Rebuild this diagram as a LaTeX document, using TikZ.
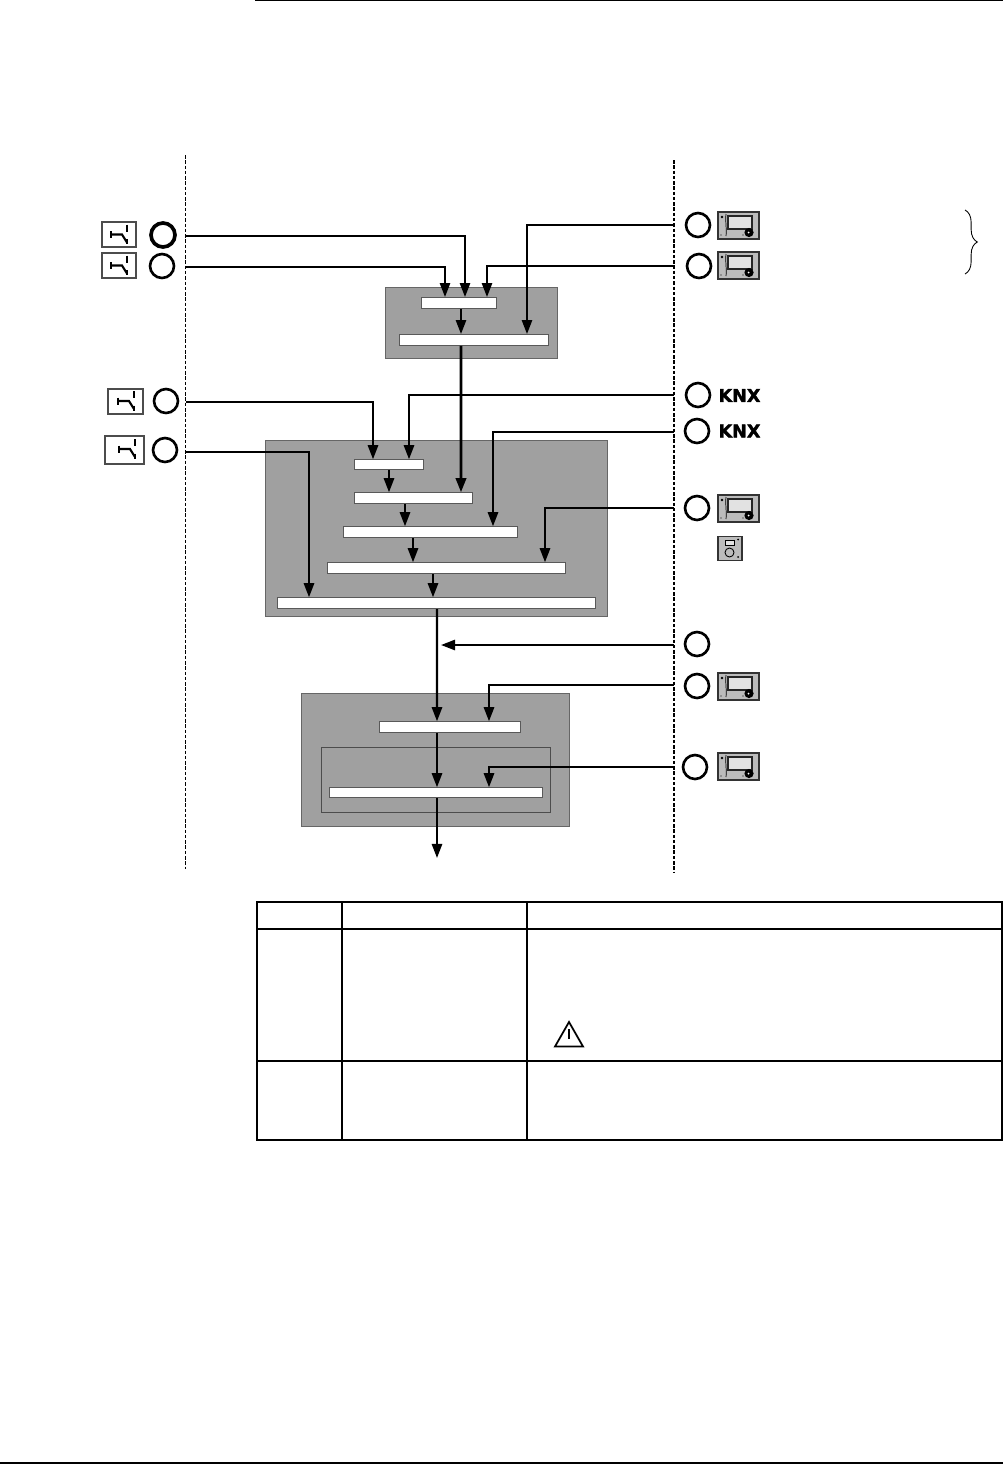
\documentclass[tikz,border=0pt]{standalone}
\usepackage{xcolor}
\usepackage{fontspec}
\newfontfamily\knxfont[BoldFeatures={FakeBold=2}]{DejaVu Sans}
\usetikzlibrary{arrows.meta, positioning, decorations.pathreplacing, shapes.geometric}
\definecolor{panel}{HTML}{A0A0A0}
\definecolor{device}{HTML}{BCBCBC}
\definecolor{screen}{HTML}{E2E2E2}
\tikzset{
  groupbox/.style={draw=black!60, fill=panel, line width=0.5pt, inner sep=0pt, rectangle},
  innerbox/.style={draw=black!70, line width=0.5pt, inner sep=0pt, rectangle},
  barbox/.style={draw=black!65, fill=white, line width=0.5pt, inner sep=0pt, rectangle},
  port/.style={draw, circle, line width=1.5pt, minimum size=0.48cm, inner sep=0pt},
  switchbox/.style={draw=black!70, fill=white, line width=0.7pt, inner sep=0pt, rectangle},
  link/.style={-{Triangle[length=8pt,width=5.8pt]}, line width=1.25pt},
  boundary/.style={dash pattern=on 2pt off 1pt, line width=0.6pt},
  rule/.style={line width=0.7pt},
  knx/.style={font=\knxfont\bfseries\fontsize{10}{10}\selectfont, inner sep=0pt},
}
% bedienteil: x1,y1 links oben, in Pixeln
\newcommand{\panelicon}[2]{%
  \begin{scope}[shift={(#1,#2)}]
    \fill[device, draw=black!80, line width=0.9pt] (0,0) rectangle (41,27);
    \draw[fill=screen, draw=black!85, line width=0.6pt] (10,4) rectangle (34,17);
    \draw[line width=0.4pt] (8,2) .. controls (7,10) and (9,16) .. (8,24);
    \fill (4,5) circle (1.3);
    \fill (31,20.5) circle (4.6);
    \fill[white] (30.5,20.5) circle (1);
    \fill (25,23) circle (0.7);
    \fill (3,23) circle (0.7);
  \end{scope}}
% schaltersymbol
\newcommand{\switchicon}[2]{%
  \begin{scope}[shift={(#1,#2)}]
    \draw[line width=1.2pt] (-8,0) -- (3,0) -- (8,8);
    \draw[line width=1pt] (-8,-3.5) -- (-8,3.5);
    \draw[line width=1pt] (8,4.5) -- (8,9.5);
    \draw[line width=1pt] (8,-10) -- (8,-3);
  \end{scope}}
\begin{document}
\begin{tikzpicture}[x=0.02cm, y=-0.02cm, >=Latex]
  \useasboundingbox (0,0) rectangle (1003,1464);
  \fill[white] (0,0) rectangle (1003,1464);
  % Seitenlinien
  \coordinate (topL) at (255,0.6);
  \coordinate (topR) at (1003,0.6);
  \coordinate (botL) at (0,1463);
  \coordinate (botR) at (1003,1463);
  \draw[rule] (topL) -- (topR);
  \draw[rule, line width=1.1pt] (botL) -- (botR);
  % Grenzen
  \coordinate (limLt) at (185.5,155);
  \coordinate (limLb) at (185.5,869);
  \coordinate (limRt) at (674,160);
  \coordinate (limRb) at (674,873);
  \draw[boundary] (limLt) -- (limLb);
  \draw[boundary] (limRt) -- (limRb);

  % Gruppen
  \node[groupbox, minimum width=3.44cm, minimum height=1.42cm] (groupA) at (471.7,323) {};
  \node[groupbox, minimum width=6.84cm, minimum height=3.52cm] (groupB) at (436.7,528.7) {};
  \node[groupbox, minimum width=5.36cm, minimum height=2.66cm] (groupC) at (435.7,760.2) {};
  \node[innerbox, minimum width=4.58cm, minimum height=1.30cm] (groupD) at (436.2,780.2) {};

  % Balken
  \node[barbox, minimum width=1.50cm, minimum height=0.22cm] (barA) at (459,303) {};
  \node[barbox, minimum width=2.98cm, minimum height=0.22cm] (barB) at (474,340) {};
  \node[barbox, minimum width=1.38cm, minimum height=0.20cm] (barC) at (389,464.7) {};
  \node[barbox, minimum width=2.36cm, minimum height=0.22cm] (barD) at (413.7,498.2) {};
  \node[barbox, minimum width=3.48cm, minimum height=0.22cm] (barE) at (430.7,532.2) {};
  \node[barbox, minimum width=4.76cm, minimum height=0.22cm] (barF) at (446.7,568.2) {};
  \node[barbox, minimum width=6.36cm, minimum height=0.22cm] (barG) at (436.7,603.2) {};
  \node[barbox, minimum width=2.82cm, minimum height=0.22cm] (barH) at (450,727.2) {};
  \node[barbox, minimum width=4.26cm, minimum height=0.20cm] (barI) at (436,792.7) {};

  % Eingaenge links
  \node[port, line width=2.1pt] (portA) at (163,235) {};
  \node[port] (portB) at (162,266) {};
  \node[port] (portC) at (166,401) {};
  \node[port] (portD) at (165,450) {};
  \node[switchbox, minimum width=0.68cm, minimum height=0.50cm] (swA) at (119,234.5) {};
  \node[switchbox, minimum width=0.68cm, minimum height=0.50cm] (swB) at (119,265.5) {};
  \node[switchbox, minimum width=0.70cm, minimum height=0.50cm] (swC) at (125.5,401.5) {};
  \node[switchbox, minimum width=0.78cm, minimum height=0.56cm] (swD) at (124.5,450) {};
  \switchicon{119}{234.5}
  \switchicon{119}{265.5}
  \switchicon{126}{401}
  \switchicon{127}{449}

  % Eingaenge rechts
  \node[port] (portE) at (698,225) {};
  \node[port] (portF) at (699,266) {};
  \node[port] (portG) at (698,395) {};
  \node[port] (portH) at (697,431) {};
  \node[port] (portI) at (697,508) {};
  \node[port] (portJ) at (697,644) {};
  \node[port] (portK) at (697,686) {};
  \node[port] (portL) at (695,767) {};
  \panelicon{718}{212}
  \panelicon{718}{252}
  \panelicon{718}{495}
  \panelicon{718}{673}
  \panelicon{718}{753}
  \node[knx] (knxA) at (739.5,395.5) {KNX};
  \node[knx] (knxB) at (739.5,431) {KNX};
  % Raumgeraet
  \node[draw=black!80, fill=device, line width=0.8pt, minimum width=0.48cm, minimum height=0.48cm, inner sep=0pt] (roomdev) at (730,548.5) {};
  \draw[fill=screen, line width=0.4pt] (725,540.5) rectangle (734,545);
  \draw[line width=0.5pt] (729.5,552.5) circle (4.5);
  \fill (738,539.5) circle (1);
  \fill (738,557) circle (1);

  % Klammer
  \coordinate (braceT) at (965,210);
  \coordinate (braceB) at (965,274);
  \draw[decorate, decoration={brace, amplitude=7pt}, line width=0.5pt] (braceT) -- (braceB);

  % Anschluesse auf den Grenzen
  \coordinate (lineA) at (186,236);
  \coordinate (lineB) at (186,267);
  \coordinate (lineC) at (186,402);
  \coordinate (lineD) at (186,452);
  \coordinate (lineE) at (674,225);
  \coordinate (lineF) at (674,266);
  \coordinate (lineG) at (674,395);
  \coordinate (lineH) at (674,432);
  \coordinate (lineI) at (674,508);
  \coordinate (lineJ) at (674,645);
  \coordinate (lineK) at (674,685);
  \coordinate (lineL) at (674,767);
  \coordinate (tipJ) at (441,645);
  \coordinate (outlet) at (437,858);

  % Verbindungen
  \draw[link] (lineA) -| ([xshift=6*0.02cm]barA.north);
  \draw[link] (lineB) -| ([xshift=-14*0.02cm]barA.north);
  \draw[link] (lineE) -| ([xshift=53*0.02cm]barB.north);
  \draw[link] (lineF) -| ([xshift=28*0.02cm]barA.north);
  \draw[link] (lineC) -| ([xshift=-16*0.02cm]barC.north);
  \draw[link] (lineG) -| ([xshift=20*0.02cm]barC.north);
  \draw[link] (lineH) -| ([xshift=62.3*0.02cm]barE.north);
  \draw[link] (lineI) -| ([xshift=98.3*0.02cm]barF.north);
  \draw[link] (lineD) -| ([xshift=-127.7*0.02cm]barG.north);
  \draw[link] (lineJ) -- (tipJ);
  \draw[link] (lineK) -| ([xshift=39*0.02cm]barH.north);
  \draw[link] (lineL) -| ([xshift=53*0.02cm]barI.north);

  \draw[link] ([xshift=2*0.02cm]barA.south) -- ([xshift=-13*0.02cm]barB.north);
  \draw[link, line width=1.6pt] ([xshift=-13*0.02cm]barB.south) -- ([xshift=47.3*0.02cm]barD.north);
  \draw[link] (barC.south) -- ([xshift=-24.7*0.02cm]barD.north);
  \draw[link] ([xshift=-8.7*0.02cm]barD.south) -- ([xshift=-25.7*0.02cm]barE.north);
  \draw[link] ([xshift=-17.7*0.02cm]barE.south) -- ([xshift=-33.7*0.02cm]barF.north);
  \draw[link] ([xshift=-13.7*0.02cm]barF.south) -- ([xshift=-3.7*0.02cm]barG.north);
  \draw[link] ([xshift=0.3*0.02cm]barG.south) -- ([xshift=-13*0.02cm]barH.north);
  \draw[link] ([xshift=-13*0.02cm]barH.south) -- ([xshift=1*0.02cm]barI.north);
  \draw[link] ([xshift=1*0.02cm]barI.south) -- (outlet);

  % Tabelle
  \node[draw, rule, minimum width=14.9cm, minimum height=4.76cm, inner sep=0pt] (tableframe) at (629.5,1021) {};
  \coordinate (colAt) at (342,902);
  \coordinate (colAb) at (342,1140);
  \coordinate (colBt) at (527,902);
  \coordinate (colBb) at (527,1140);
  \coordinate (rowAl) at (257,929);
  \coordinate (rowAr) at (1002,929);
  \coordinate (rowBl) at (257,1061);
  \coordinate (rowBr) at (1002,1061);
  \draw[rule] (colAt) -- (colAb);
  \draw[rule] (colBt) -- (colBb);
  \draw[rule] (rowAl) -- (rowAr);
  \draw[rule] (rowBl) -- (rowBr);
  % Warnzeichen
  \draw[line width=1pt, line join=miter] (555,1046.5) -- (569,1022) -- (583,1046.5) -- cycle;
  \draw[line width=0.8pt] (569,1029) -- (569,1039);
\end{tikzpicture}
\end{document}
